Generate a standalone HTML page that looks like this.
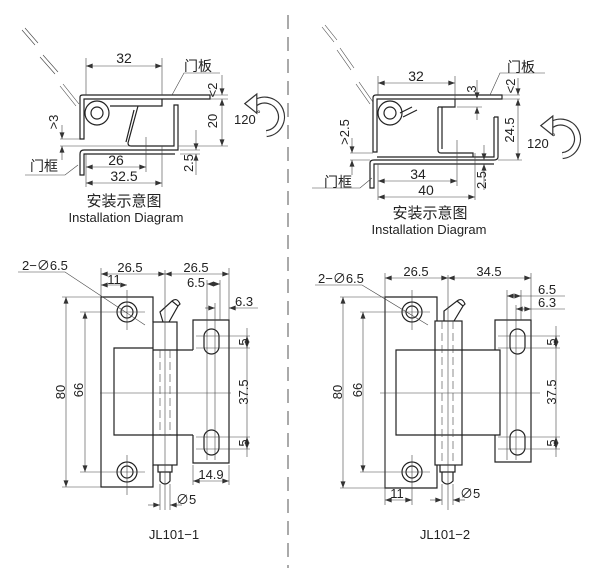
<!DOCTYPE html>
<html><head><meta charset="utf-8"><style>
html,body{margin:0;padding:0;background:#fff;}
svg{display:block;}
text{font-family:"Liberation Sans","Noto Sans CJK SC",sans-serif;fill:#222;}
.o{stroke:#222;stroke-width:1.2;fill:none;}
.o path,.o rect,.o circle{fill:none;}
.t{stroke:#444;stroke-width:0.6;fill:none;}
.t polyline,.t line{fill:none;}
</style></head><body>
<svg width="600" height="568" viewBox="0 0 600 568" xmlns="http://www.w3.org/2000/svg">
<defs>
<marker id="a" viewBox="0 0 8 6" refX="8" refY="3" markerWidth="8" markerHeight="5" markerUnits="userSpaceOnUse" orient="auto-start-reverse"><path d="M0,0 L8,3 L0,6z" fill="#333"/></marker>
</defs>
<line x1="288" y1="15" x2="288" y2="568" stroke="#555" stroke-width="1" stroke-dasharray="14 8"/>

<!-- ===== TOP LEFT ===== -->
<g class="t">
<line x1="22" y1="30" x2="35" y2="45"/><line x1="25" y1="28" x2="38" y2="43"/>
<line x1="40" y1="57" x2="55" y2="74"/><line x1="43" y1="55" x2="58" y2="72"/>
<line x1="60" y1="86" x2="76" y2="106"/><line x1="63" y1="84" x2="79" y2="104"/>
</g>
<g class="o">
<path d="M80,139 L80,97 Q80,95 83,95 L210,95 L210,99 L84,99 L84,139 Z"/>
<circle cx="97" cy="113" r="12"/><circle cx="97" cy="113" r="6"/>
<path d="M110,106 L162,106 L162,99"/>
<path d="M138,106 L128,143 Q128,146 131,146 L174,146 L174,105 L178,105 L178,150 L84,150 Q80,150 80,154 L80,175 L84,175 L84,154 L175,154"/>
<path d="M134,110 L126,142"/>
</g>
<g class="t">
<line x1="86" y1="58" x2="86" y2="95"/><line x1="162" y1="58" x2="162" y2="95"/>
<line x1="86" y1="66" x2="162" y2="66" marker-start="url(#a)" marker-end="url(#a)"/>
<polyline points="172,95 184,73 220,73"/>
<line x1="210" y1="95" x2="228" y2="95"/><line x1="210" y1="99" x2="228" y2="99"/><line x1="178" y1="146" x2="228" y2="146"/>
<line x1="222" y1="75" x2="222" y2="95" marker-end="url(#a)"/>
<line x1="222" y1="99" x2="222" y2="146" marker-start="url(#a)" marker-end="url(#a)"/>
<line x1="60" y1="139" x2="80" y2="139"/><line x1="60" y1="146" x2="130" y2="146"/>
<line x1="62" y1="125" x2="62" y2="139" marker-end="url(#a)"/>
<line x1="62" y1="160" x2="62" y2="146" marker-end="url(#a)"/>
<line x1="86" y1="154" x2="86" y2="187"/><line x1="146" y1="137" x2="146" y2="172"/><line x1="162" y1="146" x2="162" y2="187"/>
<line x1="86" y1="167" x2="146" y2="167" marker-start="url(#a)" marker-end="url(#a)"/>
<line x1="86" y1="183" x2="162" y2="183" marker-start="url(#a)" marker-end="url(#a)"/>
<line x1="180" y1="150" x2="200" y2="150"/><line x1="180" y1="154" x2="200" y2="154"/>
<line x1="196" y1="130" x2="196" y2="150" marker-end="url(#a)"/>
<line x1="196" y1="175" x2="196" y2="154" marker-end="url(#a)"/>
<polyline points="25,175 65,175 78,165"/>
</g>
<text x="124" y="63" font-size="14" text-anchor="middle">32</text>
<text x="184" y="71" font-size="14">门板</text>
<text x="217" y="90" font-size="13" transform="rotate(-90 217 90)" text-anchor="middle">&lt;2</text>
<text x="217" y="121" font-size="13" transform="rotate(-90 217 121)" text-anchor="middle">20</text>
<text x="58" y="122" font-size="13" transform="rotate(-90 58 122)" text-anchor="middle">&gt;3</text>
<text x="116" y="165" font-size="14" text-anchor="middle">26</text>
<text x="124" y="181" font-size="14" text-anchor="middle">32.5</text>
<text x="193" y="163" font-size="13" transform="rotate(-90 193 163)" text-anchor="middle">2.5</text>
<text x="30" y="171" font-size="14">门框</text>
<text x="124" y="206" font-size="15" text-anchor="middle">安装示意图</text>
<text x="126" y="222" font-size="13" text-anchor="middle">Installation Diagram</text>
<g transform="translate(264,118) scale(1.2)">
<path d="M-8,-12 A14,14 0 1 1 2,13" fill="none" stroke="#333" stroke-width="6"/>
<path d="M-8,-12 A14,14 0 1 1 2,13" fill="none" stroke="#fff" stroke-width="4"/>
<path d="M-16,-12 L-6,-20 L-6,-4 Z" fill="#fff" stroke="#333" stroke-width="1"/>
</g>
<text x="234" y="124" font-size="13">120</text><text x="257" y="117" font-size="9">°</text>

<!-- ===== TOP RIGHT ===== -->
<g class="t">
<line x1="322" y1="27" x2="334" y2="42"/><line x1="325" y1="25" x2="337" y2="40"/>
<line x1="337" y1="50" x2="351" y2="70"/><line x1="340" y1="48" x2="354" y2="68"/>
<line x1="356" y1="84" x2="370" y2="104"/><line x1="359" y1="82" x2="373" y2="102"/>
</g>
<g class="o">
<path d="M373,152 L373,98 Q373,95 376,95 L502,95 L502,99 L377,99 L377,152 Z"/>
<circle cx="390" cy="113" r="12"/><circle cx="390" cy="113" r="6"/>
<path d="M438,107 L455,107 L455,99"/>
<path d="M438,107 L438,150 Q438,153 441,153 L473,153 L473,157"/>
<path d="M442,107 L442,149"/>
<path d="M494,117 L498,117 L498,157 Q498,160 494,160 L374,160 Q370,160 370,163 L370,188 L374,188 L374,164 L494,164"/>
<path d="M494,117 L494,157 L377,157"/>
<path d="M412,107 L400,113 M417,110 L403,117"/>
</g>
<g class="t">
<line x1="378" y1="76" x2="378" y2="95"/><line x1="455" y1="76" x2="455" y2="107"/>
<line x1="378" y1="83" x2="455" y2="83" marker-start="url(#a)" marker-end="url(#a)"/>
<polyline points="490,95 500,73 545,73"/>
<line x1="502" y1="95" x2="520" y2="95"/><line x1="502" y1="99" x2="520" y2="99"/>
<line x1="518" y1="78" x2="518" y2="95" marker-end="url(#a)"/>
<line x1="518" y1="99" x2="518" y2="160" marker-start="url(#a)" marker-end="url(#a)"/>
<line x1="498" y1="160" x2="522" y2="160"/>
<line x1="477" y1="80" x2="477" y2="99" marker-end="url(#a)"/>
<line x1="477" y1="120" x2="477" y2="107" marker-end="url(#a)"/>
<line x1="457" y1="107" x2="482" y2="107"/>
<line x1="350" y1="153" x2="373" y2="153"/><line x1="350" y1="160" x2="370" y2="160"/>
<line x1="352" y1="138" x2="352" y2="153" marker-end="url(#a)"/>
<line x1="352" y1="175" x2="352" y2="160" marker-end="url(#a)"/>
<line x1="378" y1="164" x2="378" y2="200"/><line x1="457" y1="140" x2="457" y2="186"/><line x1="475" y1="153" x2="475" y2="200"/>
<line x1="378" y1="181" x2="457" y2="181" marker-start="url(#a)" marker-end="url(#a)"/>
<line x1="378" y1="197" x2="475" y2="197" marker-start="url(#a)" marker-end="url(#a)"/>
<line x1="484" y1="145" x2="484" y2="160" marker-end="url(#a)"/>
<line x1="484" y1="190" x2="484" y2="164" marker-end="url(#a)"/>
<polyline points="312,188 360,188 372,178"/>
</g>
<text x="416" y="81" font-size="14" text-anchor="middle">32</text>
<text x="507" y="72" font-size="14">门板</text>
<text x="476" y="89" font-size="13" transform="rotate(-90 476 89)" text-anchor="middle">3</text>
<text x="515" y="86" font-size="13" transform="rotate(-90 515 86)" text-anchor="middle">&lt;2</text>
<text x="514" y="130" font-size="13" transform="rotate(-90 514 130)" text-anchor="middle">24.5</text>
<text x="349" y="132" font-size="13" transform="rotate(-90 349 132)" text-anchor="middle">&gt;2.5</text>
<text x="418" y="179" font-size="14" text-anchor="middle">34</text>
<text x="426" y="195" font-size="14" text-anchor="middle">40</text>
<text x="486" y="180" font-size="13" transform="rotate(-90 486 180)" text-anchor="middle">2.5</text>
<text x="324" y="187" font-size="14">门框</text>
<text x="430" y="218" font-size="15" text-anchor="middle">安装示意图</text>
<text x="429" y="234" font-size="13" text-anchor="middle">Installation Diagram</text>
<g transform="translate(560,140) scale(1.2)">
<path d="M-8,-12 A14,14 0 1 1 2,13" fill="none" stroke="#333" stroke-width="6"/>
<path d="M-8,-12 A14,14 0 1 1 2,13" fill="none" stroke="#fff" stroke-width="4"/>
<path d="M-16,-12 L-6,-20 L-6,-4 Z" fill="#fff" stroke="#333" stroke-width="1"/>
</g>
<text x="527" y="148" font-size="13">120</text><text x="552" y="140" font-size="9">°</text>

<!-- ===== BOTTOM LEFT ===== -->
<g class="o">
<path d="M153,322 L153,297 L101,297 L101,487 L153,487 L153,465"/>
<circle cx="127" cy="312" r="10"/><circle cx="127" cy="312" r="6"/>
<circle cx="127" cy="472" r="10"/><circle cx="127" cy="472" r="6"/>
<rect x="153" y="322" width="24" height="143"/>
<line x1="153" y1="350" x2="177" y2="350"/><line x1="153" y1="435" x2="177" y2="435"/>
<path d="M153,348 L114,348 L114,435 L153,435"/>
<path d="M177,350 L193,350 M177,435 L193,435"/>
<path d="M193,350 L193,320 L229,320 L229,463 L193,463 L193,435"/>
<rect x="204" y="329" width="15" height="25" rx="7.5"/>
<rect x="204" y="430" width="15" height="25" rx="7.5"/>
<path d="M158,465 L158,472 L172,472 L172,465 M160,472 L160,481 Q165,487 170,481 L170,472"/>
<path d="M163,322 L160,312 L172,301 L178,306 L169,322 M172,301 Q177,297 180,304 L178,306"/>
</g>
<g class="t">
<line x1="160" y1="350" x2="160" y2="435" stroke-dasharray="8 4"/><line x1="170" y1="350" x2="170" y2="435" stroke-dasharray="8 4"/>
<line x1="165" y1="270" x2="165" y2="510"/>
<line x1="100" y1="393" x2="231" y2="393"/>
<line x1="127" y1="290" x2="127" y2="330"/><line x1="127" y1="455" x2="127" y2="495"/>
<line x1="80" y1="312" x2="145" y2="312"/><line x1="80" y1="472" x2="145" y2="472"/>
<line x1="62" y1="297" x2="101" y2="297"/><line x1="62" y1="487" x2="101" y2="487"/>
<line x1="66" y1="297" x2="66" y2="487" marker-start="url(#a)" marker-end="url(#a)"/>
<line x1="85" y1="312" x2="85" y2="472" marker-start="url(#a)" marker-end="url(#a)"/>
<line x1="101" y1="268" x2="101" y2="297"/><line x1="229" y1="268" x2="229" y2="320"/>
<line x1="101" y1="274" x2="165" y2="274" marker-start="url(#a)" marker-end="url(#a)"/>
<line x1="165" y1="274" x2="229" y2="274" marker-start="url(#a)" marker-end="url(#a)"/>
<line x1="101" y1="285" x2="127" y2="285" marker-start="url(#a)" marker-end="url(#a)"/>
<line x1="207" y1="280" x2="207" y2="460"/><line x1="220" y1="280" x2="220" y2="320"/>
<line x1="207" y1="284" x2="220" y2="284" marker-start="url(#a)" marker-end="url(#a)"/>
<line x1="215" y1="303" x2="215" y2="460"/>
<line x1="205" y1="308" x2="215" y2="308" marker-end="url(#a)"/>
<line x1="238" y1="308" x2="229" y2="308" marker-end="url(#a)"/>
<line x1="238" y1="308" x2="258" y2="308"/>
<line x1="196" y1="336" x2="250" y2="336"/><line x1="196" y1="348" x2="250" y2="348"/>
<line x1="196" y1="437" x2="250" y2="437"/><line x1="196" y1="449" x2="250" y2="449"/>
<line x1="247" y1="328" x2="247" y2="457"/>
<line x1="247" y1="336" x2="247" y2="348" marker-start="url(#a)" marker-end="url(#a)"/>
<line x1="247" y1="437" x2="247" y2="449" marker-start="url(#a)" marker-end="url(#a)"/>
<line x1="193" y1="465" x2="193" y2="485"/><line x1="229" y1="465" x2="229" y2="485"/>
<line x1="193" y1="481" x2="229" y2="481" marker-start="url(#a)" marker-end="url(#a)"/>
<line x1="160" y1="484" x2="160" y2="510"/><line x1="170" y1="484" x2="170" y2="510"/>
<line x1="148" y1="505" x2="160" y2="505" marker-end="url(#a)"/>
<line x1="182" y1="505" x2="170" y2="505" marker-end="url(#a)"/>
<polyline points="18,272 65,272 145,325"/>
</g>
<text x="22" y="270" font-size="13">2−∅6.5</text>
<text x="130" y="272" font-size="13" text-anchor="middle">26.5</text>
<text x="196" y="272" font-size="13" text-anchor="middle">26.5</text>
<text x="114" y="284" font-size="13" text-anchor="middle">11</text>
<text x="196" y="287" font-size="13" text-anchor="middle">6.5</text>
<text x="235" y="306" font-size="13">6.3</text>
<text x="65" y="392" font-size="13" transform="rotate(-90 65 392)" text-anchor="middle">80</text>
<text x="83" y="390" font-size="13" transform="rotate(-90 83 390)" text-anchor="middle">66</text>
<text x="248" y="342" font-size="13" transform="rotate(-90 248 342)" text-anchor="middle">5</text>
<text x="248" y="392" font-size="13" transform="rotate(-90 248 392)" text-anchor="middle">37.5</text>
<text x="248" y="443" font-size="13" transform="rotate(-90 248 443)" text-anchor="middle">5</text>
<text x="211" y="479" font-size="13" text-anchor="middle">14.9</text>
<text x="176" y="504" font-size="13">∅5</text>
<text x="174" y="539" font-size="13" text-anchor="middle">JL101−1</text>

<!-- ===== BOTTOM RIGHT ===== -->
<g class="o">
<path d="M437,321 L437,297 L385,297 L385,488 L437,488 L437,465"/>
<circle cx="412" cy="312" r="10"/><circle cx="412" cy="312" r="6"/>
<circle cx="412" cy="472" r="10"/><circle cx="412" cy="472" r="6"/>
<rect x="435" y="321" width="27" height="144"/>
<line x1="435" y1="350" x2="462" y2="350"/><line x1="435" y1="435" x2="462" y2="435"/>
<path d="M435,350 L396,350 L396,435 L435,435"/>
<path d="M462,350 L500,350 L500,435 L462,435"/>
<path d="M495,350 L495,320 L531,320 L531,462 L495,462 L495,435"/>
<rect x="510" y="329" width="15" height="25" rx="7.5"/>
<rect x="510" y="430" width="15" height="25" rx="7.5"/>
<path d="M440,465 L440,472 L455,472 L455,465 M442,472 L442,481 Q447,487 453,481 L453,472"/>
<path d="M444,321 L444,311 L457,301 L463,306 L454,321 M457,301 Q462,297 465,304 L463,306"/>
</g>
<g class="t">
<line x1="442" y1="321" x2="442" y2="465" stroke-dasharray="8 4"/><line x1="453" y1="321" x2="453" y2="465" stroke-dasharray="8 4"/>
<line x1="448" y1="275" x2="448" y2="510"/>
<line x1="380" y1="393" x2="540" y2="393"/>
<line x1="412" y1="290" x2="412" y2="330"/><line x1="412" y1="455" x2="412" y2="505"/>
<line x1="360" y1="312" x2="430" y2="312"/><line x1="360" y1="472" x2="430" y2="472"/>
<line x1="340" y1="297" x2="385" y2="297"/><line x1="340" y1="488" x2="385" y2="488"/>
<line x1="343" y1="297" x2="343" y2="488" marker-start="url(#a)" marker-end="url(#a)"/>
<line x1="363" y1="312" x2="363" y2="472" marker-start="url(#a)" marker-end="url(#a)"/>
<line x1="385" y1="273" x2="385" y2="505"/><line x1="531" y1="273" x2="531" y2="320"/>
<line x1="385" y1="278" x2="448" y2="278" marker-start="url(#a)" marker-end="url(#a)"/>
<line x1="448" y1="278" x2="531" y2="278" marker-start="url(#a)" marker-end="url(#a)"/>
<line x1="507" y1="290" x2="507" y2="460"/><line x1="521" y1="290" x2="521" y2="320"/>
<line x1="507" y1="296" x2="521" y2="296" marker-start="url(#a)" marker-end="url(#a)"/>
<line x1="521" y1="296" x2="565" y2="296"/>
<line x1="516" y1="305" x2="516" y2="460"/>
<line x1="516" y1="309" x2="531" y2="309" marker-start="url(#a)" marker-end="url(#a)"/>
<line x1="531" y1="309" x2="565" y2="309"/>
<line x1="498" y1="336" x2="560" y2="336"/><line x1="498" y1="348" x2="560" y2="348"/>
<line x1="498" y1="437" x2="560" y2="437"/><line x1="498" y1="449" x2="560" y2="449"/>
<line x1="556" y1="326" x2="556" y2="457"/>
<line x1="556" y1="336" x2="556" y2="348" marker-start="url(#a)" marker-end="url(#a)"/>
<line x1="556" y1="437" x2="556" y2="449" marker-start="url(#a)" marker-end="url(#a)"/>
<line x1="385" y1="500" x2="412" y2="500" marker-start="url(#a)" marker-end="url(#a)"/>
<line x1="442" y1="484" x2="442" y2="505"/><line x1="453" y1="484" x2="453" y2="505"/>
<line x1="430" y1="500" x2="442" y2="500" marker-end="url(#a)"/>
<line x1="465" y1="500" x2="453" y2="500" marker-end="url(#a)"/>
<polyline points="315,285 362,285 428,325"/>
</g>
<text x="318" y="283" font-size="13">2−∅6.5</text>
<text x="416" y="276" font-size="13" text-anchor="middle">26.5</text>
<text x="489" y="276" font-size="13" text-anchor="middle">34.5</text>
<text x="538" y="294" font-size="13">6.5</text>
<text x="538" y="307" font-size="13">6.3</text>
<text x="342" y="392" font-size="13" transform="rotate(-90 342 392)" text-anchor="middle">80</text>
<text x="362" y="390" font-size="13" transform="rotate(-90 362 390)" text-anchor="middle">66</text>
<text x="556" y="342" font-size="13" transform="rotate(-90 556 342)" text-anchor="middle">5</text>
<text x="556" y="392" font-size="13" transform="rotate(-90 556 392)" text-anchor="middle">37.5</text>
<text x="556" y="443" font-size="13" transform="rotate(-90 556 443)" text-anchor="middle">5</text>
<text x="397" y="498" font-size="13" text-anchor="middle">11</text>
<text x="460" y="498" font-size="13">∅5</text>
<text x="445" y="539" font-size="13" text-anchor="middle">JL101−2</text>
</svg>
</body></html>
